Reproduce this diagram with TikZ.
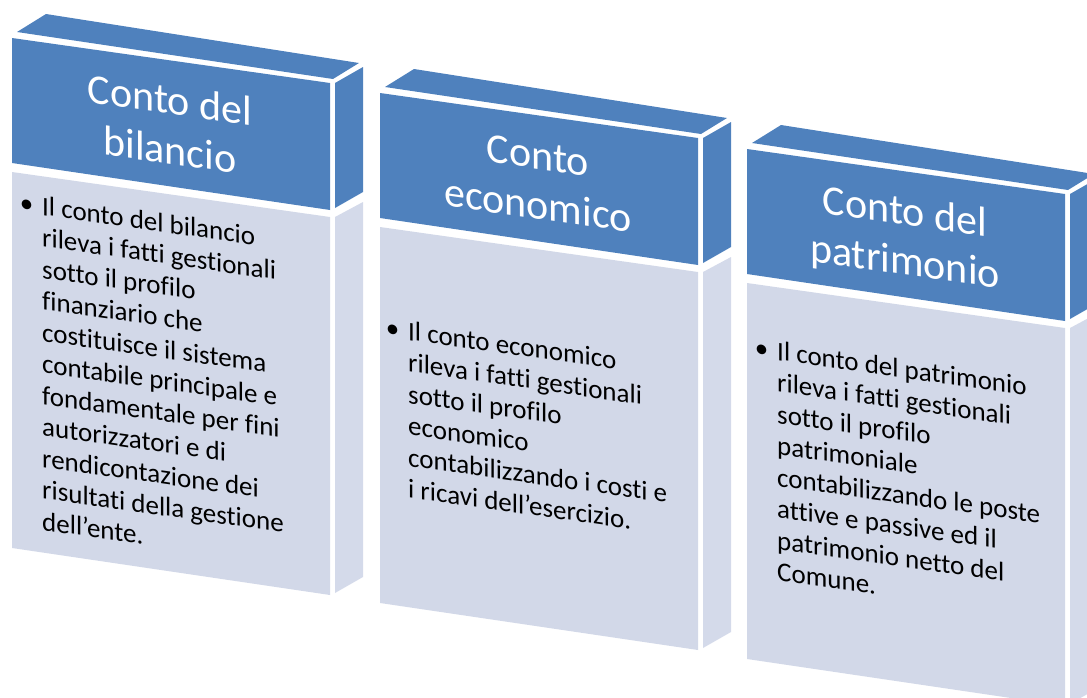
\documentclass[tikz,border=0pt]{standalone}
\usepackage{fontspec}
\setmainfont{Carlito}[Ligatures=NoCommon]
\definecolor{hdrblue}{HTML}{4F81BD}
\definecolor{bodylav}{HTML}{D2D8E8}
\definecolor{sidelav}{HTML}{D4DAEA}
\tikzset{
  hdrface/.style={fill=hdrblue},
  bodyface/.style={fill=bodylav},
  sideface/.style={fill=sidelav},
  hdrtext/.style={text=white, inner sep=0pt, anchor=base, yslant=-0.1415, transform shape,
    font=\fontsize{42}{50}\selectfont},
  bodytext/.style={text=black, inner sep=0pt, anchor=base west, yslant=-0.1415, transform shape}
}
\newcommand\blockfaces[2]{%
  \begin{scope}[shift={(#1,#2)}]
    \fill[hdrface] (5,-6) -- (34,-24) -- (347,25) -- (321,41) -- cycle;
    \fill[hdrface] (0,0) -- (318,45) -- (318,172) -- (0,125) -- cycle;
    \fill[hdrface] (323,45) -- (351,29) -- (351,154) -- (323,170) -- cycle;
    \fill[bodyface] (0,134) -- (318,179) -- (318,557) -- (0,510) -- cycle;
    \fill[sideface] (323,179) -- (351,164) -- (351,539) -- (323,555) -- cycle;
  \end{scope}}
\newcommand\blines[1]{\vtop{\fontsize{27}{31.5}\selectfont\lineskiplimit=-1000pt\relax #1}}
\newcommand\bul{\llap{•\hspace{9pt}}}
\begin{document}
\begin{tikzpicture}[x=1pt, y=-1pt]
  \useasboundingbox (0,0) rectangle (1087,697);
  \clip (0,0) rectangle (1087,697);
  \blockfaces{12}{38}
  \blockfaces{380}{93}
  \blockfaces{747}{149}
  % headers
  \node[hdrtext] (h1) at (170,114) {\begin{tabular}[t]{@{}c@{}}Conto del\\bilancio\end{tabular}};
  \node[hdrtext] (h2) at (538,169) {\begin{tabular}[t]{@{}c@{}}Conto\\economico\end{tabular}};
  \node[hdrtext] (h3) at (905,225) {\begin{tabular}[t]{@{}c@{}}Conto del\\patrimonio\end{tabular}};
  % bodies
  \node[bodytext] (b1) at (42,215) {\blines{%
    \hbox{\bul Il conto del bilancio}
    \hbox{rileva i fatti gestionali}
    \hbox{sotto il profilo}
    \hbox{finanziario che}
    \hbox{costituisce il sistema}
    \hbox{contabile principale e}
    \hbox{fondamentale per fini}
    \hbox{autorizzatori e di}
    \hbox{rendicontazione dei}
    \hbox{risultati della gestione}
    \hbox{dell’ente.}}};
  \node[bodytext] (b2) at (408,340) {\blines{%
    \hbox{\bul Il conto economico}
    \hbox{rileva i fatti gestionali}
    \hbox{sotto il profilo}
    \hbox{economico}
    \hbox{contabilizzando i costi e}
    \hbox{i ricavi dell’esercizio.}}};
  \node[bodytext] (b3) at (777,360) {\blines{%
    \hbox{\bul Il conto del patrimonio}
    \hbox{rileva i fatti gestionali}
    \hbox{sotto il profilo}
    \hbox{patrimoniale}
    \hbox{contabilizzando le poste}
    \hbox{attive e passive ed il}
    \hbox{patrimonio netto del}
    \hbox{Comune.}}};
\end{tikzpicture}
\end{document}
